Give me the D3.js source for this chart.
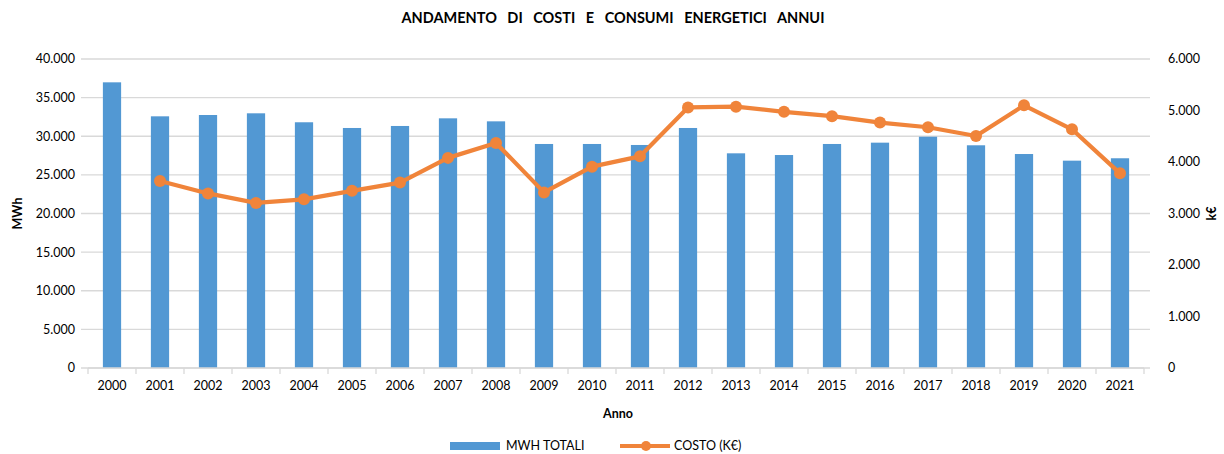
<!DOCTYPE html>
<html>
<head>
<meta charset="utf-8">
<script src="https://cdn.jsdelivr.net/npm/d3@7"></script>
<style>
  body { margin: 0; background: #fff; }
  text { font-family: Lato, "Open Sans", sans-serif; fill: #000; }
</style>
</head>
<body>
<div id="chart"></div>
<script>
// data
const years = ["2000","2001","2002","2003","2004","2005","2006","2007","2008","2009","2010",
               "2011","2012","2013","2014","2015","2016","2017","2018","2019","2020","2021"];
const mwh = [36980, 32580, 32750, 32970, 31810, 31070, 31330, 32320, 31930, 29000, 29000,
             28870, 31070, 27790, 27570, 29000, 29170, 29940, 28830, 27700, 26840, 27150];
// cost has no value for 2000
const costo = [null, 3630, 3390, 3205, 3275, 3440, 3600, 4080, 4370, 3410, 3910,
               4110, 5060, 5075, 4975, 4890, 4765, 4675, 4505, 5100, 4635, 3780];
const leftTicks = [0, 5000, 10000, 15000, 20000, 25000, 30000, 35000, 40000];
const rightTicks = [0, 1000, 2000, 3000, 4000, 5000, 6000];

const width = 1224, height = 454;
const margin = { top: 59, right: 80, bottom: 86, left: 88 };
const plotW = width - margin.left - margin.right;
const plotH = height - margin.top - margin.bottom;

const blue = "#5298D3", orange = "#F0843A", grid = "#D9D9D9";
const fmt = v => d3.format(",")(v).replace(/,/g, ".");

const svg = d3.select("#chart").append("svg").attr("width", width).attr("height", height);
const g = svg.append("g").attr("transform", `translate(${margin.left},${margin.top})`);

const x = d3.scaleBand().domain(years).range([0, plotW]).paddingInner(0.62).paddingOuter(0.31);
const yL = d3.scaleLinear().domain([0, 40000]).range([plotH, 0]);
const yR = d3.scaleLinear().domain([0, 6000]).range([plotH, 0]);

// gridlines (with small outward ticks on both sides)
g.append("g").selectAll("line").data(leftTicks).enter().append("line")
    .attr("x1", -7).attr("x2", plotW + 6)
    .attr("y1", d => yL(d)).attr("y2", d => yL(d))
    .attr("stroke", grid).attr("stroke-width", 1.3);

// left tick labels
g.append("g").selectAll("text").data(leftTicks).enter().append("text")
    .attr("x", -13).attr("y", d => yL(d)).attr("dy", "0.35em")
    .attr("text-anchor", "end").attr("font-size", 12.5).text(fmt);

// right tick labels
g.append("g").selectAll("text").data(rightTicks).enter().append("text")
    .attr("x", plotW + 24).attr("y", d => yR(d)).attr("dy", "0.35em")
    .attr("text-anchor", "start").attr("font-size", 12.5).text(fmt);

// bars
g.append("g").selectAll("rect").data(years).enter().append("rect")
    .attr("x", d => x(d))
    .attr("y", (d, i) => yL(mwh[i]))
    .attr("width", x.bandwidth())
    .attr("height", (d, i) => plotH - yL(mwh[i]))
    .attr("fill", blue);

// x axis
const step = x.step();
const xAxis = g.append("g").attr("transform", `translate(0,${plotH})`);
xAxis.append("line").attr("x1", 0).attr("x2", plotW).attr("stroke", grid).attr("stroke-width", 1.3);
xAxis.selectAll("line.tick").data(d3.range(years.length + 1)).enter().append("line")
    .attr("class", "tick")
    .attr("x1", i => i * step).attr("x2", i => i * step)
    .attr("y1", 0).attr("y2", 6).attr("stroke", grid).attr("stroke-width", 1.3);
xAxis.selectAll("text").data(years).enter().append("text")
    .attr("x", d => x(d) + x.bandwidth() / 2).attr("y", 22)
    .attr("text-anchor", "middle").attr("font-size", 12.5).text(d => d);

// cost line
const pts = years.map((d, i) => ({ year: d, v: costo[i] })).filter(p => p.v != null);
const line = d3.line().x(p => x(p.year) + x.bandwidth() / 2).y(p => yR(p.v));
g.append("path").datum(pts).attr("d", line)
    .attr("fill", "none").attr("stroke", orange).attr("stroke-width", 4.2).attr("stroke-linejoin", "round");
g.append("g").selectAll("circle").data(pts).enter().append("circle")
    .attr("cx", p => x(p.year) + x.bandwidth() / 2).attr("cy", p => yR(p.v))
    .attr("r", 6).attr("fill", orange);

// titles
svg.append("text").attr("x", 613).attr("y", 23).attr("text-anchor", "middle")
    .attr("font-size", 14.5).attr("font-weight", "bold").attr("word-spacing", "7px")
    .text("ANDAMENTO DI COSTI E CONSUMI ENERGETICI ANNUI");
svg.append("text").attr("transform", `translate(22,${margin.top + plotH / 2}) rotate(-90)`)
    .attr("text-anchor", "middle").attr("font-size", 12.5).attr("font-weight", "bold").text("MWh");
svg.append("text").attr("transform", `translate(1216,${margin.top + plotH / 2}) rotate(-90)`)
    .attr("text-anchor", "middle").attr("font-size", 12.5).attr("font-weight", "bold").text("k€");
svg.append("text").attr("x", 618).attr("y", 418).attr("text-anchor", "middle")
    .attr("font-size", 12.5).attr("font-weight", "bold").text("Anno");

// legend
const lg = svg.append("g");
lg.append("rect").attr("x", 450).attr("y", 442).attr("width", 50).attr("height", 8).attr("fill", blue);
lg.append("text").attr("x", 506).attr("y", 446).attr("dy", "0.35em").attr("font-size", 12.5).text("MWH TOTALI");
lg.append("line").attr("x1", 620).attr("x2", 670).attr("y1", 446).attr("y2", 446)
    .attr("stroke", orange).attr("stroke-width", 4.2);
lg.append("circle").attr("cx", 646).attr("cy", 446).attr("r", 5).attr("fill", orange);
lg.append("text").attr("x", 674).attr("y", 446).attr("dy", "0.35em").attr("font-size", 12.5).text("COSTO (K€)");
</script>
</body>
</html>
